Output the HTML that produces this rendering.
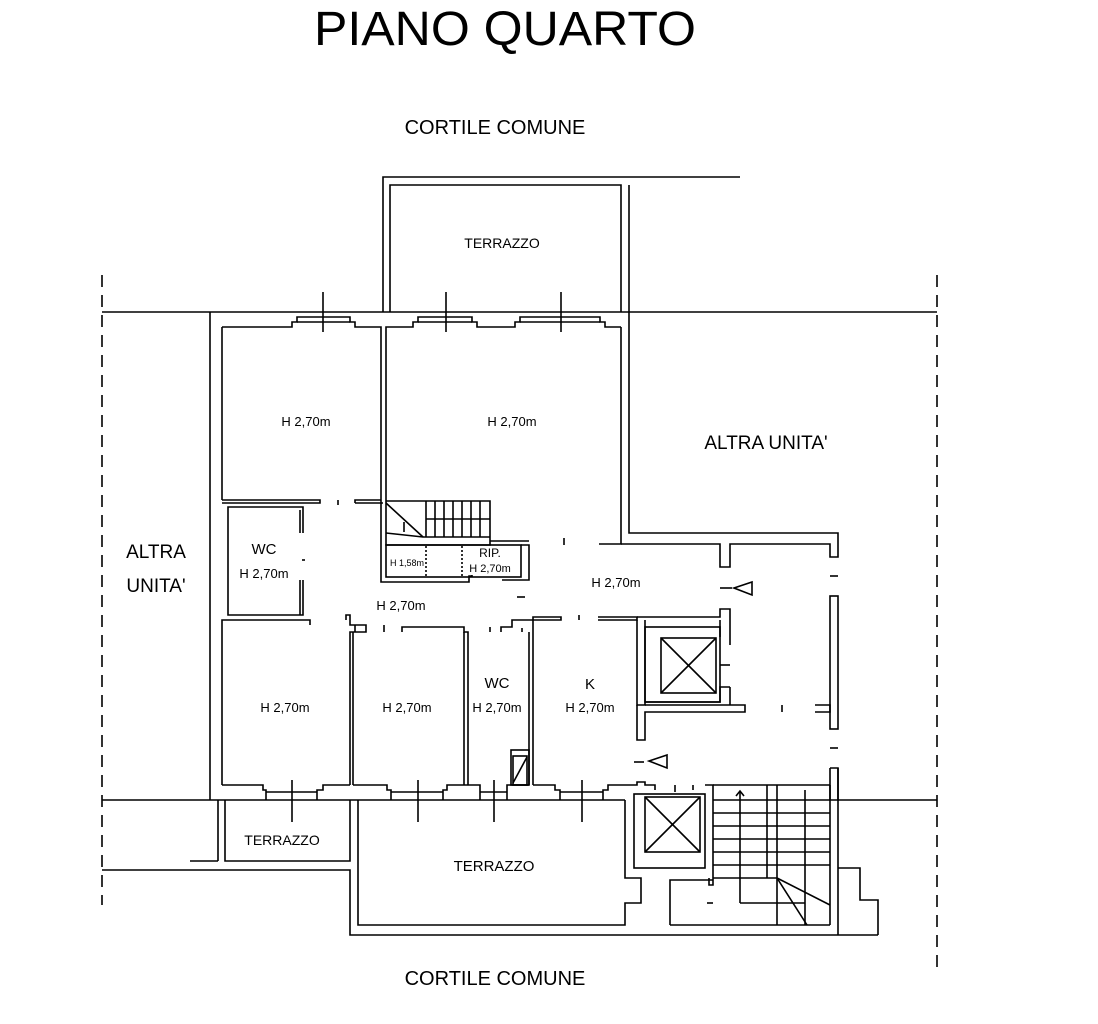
<!DOCTYPE html>
<html><head><meta charset="utf-8"><style>
html,body{margin:0;padding:0;background:#fff;}
svg{display:block;}
text{font-family:"Liberation Sans",sans-serif;fill:#000;}
</style></head><body>
<svg width="1098" height="1024" viewBox="0 0 1098 1024" xmlns="http://www.w3.org/2000/svg">
<g fill="none" stroke="#000" stroke-width="1.6">
<line x1="102" y1="275" x2="102" y2="905" stroke-dasharray="12,8"/>
<line x1="937" y1="275" x2="937" y2="972" stroke-dasharray="12,8"/>
<line x1="102" y1="312" x2="937" y2="312"/>
<line x1="102" y1="800" x2="350" y2="800"/>
<line x1="838" y1="800" x2="937" y2="800"/>
<!-- top terrace -->
<polyline points="383,312 383,177 740,177"/>
<polyline points="390,312 390,185 621,185 621,312"/>
<polyline points="629,185 629,312"/>
<!-- altra unita box -->
<polyline points="621,327 621,544 599,544"/>
<polyline points="621,544 720,544 720,567 730,567 730,544 830,544 830,557 838,557 838,533 629,533 629,312"/>
<!-- outer left wall -->
<line x1="210" y1="312" x2="210" y2="800"/>
<line x1="222" y1="327" x2="222" y2="500"/>
<polyline points="222,327 292,327 292,322 297,322 297,317 350,317 350,322 355,322 355,327 381,327 381,500"/>
<polyline points="386,500 386,327 413,327 413,322 418,322 418,317 472,317 472,322 477,322 477,327 515,327 515,322 520,322 520,317 600,317 600,322 605,322 605,327 621,327"/>
<line x1="297" y1="322" x2="350" y2="322"/>
<line x1="418" y1="322" x2="472" y2="322"/>
<line x1="520" y1="322" x2="600" y2="322"/>
<line x1="323" y1="292" x2="323" y2="332"/>
<line x1="446" y1="292" x2="446" y2="332"/>
<line x1="561" y1="292" x2="561" y2="332"/>
<polyline points="222,500 320,500 320,503 222,503"/>
<polyline points="355,503 355,500 381,500"/>
<line x1="355" y1="503" x2="383" y2="503"/>
<line x1="338" y1="500" x2="338" y2="505"/>
<!-- WC left -->
<polyline points="303,533 303,507 228,507 228,615 300,615 303,615 303,580"/>
<polyline points="300,533 300,510"/>
<line x1="300" y1="580" x2="300" y2="615"/>
<line x1="302" y1="560" x2="305" y2="560"/>
<!-- stairs -->
<polyline points="386,500 386,545 490,545 490,501 386,501"/>
<line x1="426" y1="501" x2="426" y2="537"/>
<line x1="435" y1="501" x2="435" y2="537"/>
<line x1="444" y1="501" x2="444" y2="537"/>
<line x1="453" y1="501" x2="453" y2="537"/>
<line x1="462" y1="501" x2="462" y2="537"/>
<line x1="471" y1="501" x2="471" y2="537"/>
<line x1="480" y1="501" x2="480" y2="537"/>
<line x1="426" y1="519" x2="490" y2="519"/>
<line x1="386" y1="503" x2="423" y2="537"/>
<polyline points="386,533 423,537 490,537"/>
<line x1="404" y1="522" x2="404" y2="532"/>
<line x1="490" y1="541" x2="529" y2="541"/>
<!-- rip -->
<polyline points="381,500 381,582 469,582 469,576 472,576 472,575"/>
<rect x="386" y="545" width="135" height="32"/>
<polyline points="521,545 529,545 529,580 502,580"/>
<line x1="426" y1="546" x2="426" y2="576" stroke-dasharray="2,2"/>
<line x1="462" y1="546" x2="462" y2="576" stroke-dasharray="2,2"/>
<line x1="564" y1="538" x2="564" y2="545"/>
<!-- lower rooms top wall -->
<polyline points="222,785 222,620 310,620 310,625"/>
<polyline points="346,620 346,615 350,615 350,625 366,625 366,632 350,632 350,785"/>
<polyline points="402,632 402,627 464,627 464,632 468,632 468,785"/>
<polyline points="353,785 353,632"/>
<polyline points="501,632 501,627 512,627 512,620 533,620 533,785"/>
<polyline points="529,632 529,785"/>
<polyline points="464,632 464,785"/>
<polyline points="522,632 522,628"/>
<line x1="355" y1="625" x2="355" y2="632"/>
<line x1="384" y1="625" x2="384" y2="632"/>
<line x1="490" y1="627" x2="490" y2="632"/>
<line x1="517" y1="597" x2="525" y2="597"/>
<polyline points="533,620 533,617 561,617 561,620 533,620"/>
<polyline points="598,617 637,617 637,620 598,620"/>
<line x1="579" y1="615" x2="579" y2="620"/>
<!-- elevator 1 -->
<polyline points="637,620 637,705 645,705 645,620"/>
<polyline points="637,617 720,617 720,609 730,609 730,645"/>
<polyline points="720,620 720,637"/>
<rect x="645" y="627" width="75" height="75"/>
<rect x="661" y="638" width="55" height="55"/>
<line x1="661" y1="638" x2="716" y2="693"/><line x1="716" y1="638" x2="661" y2="693"/>
<line x1="720" y1="665" x2="730" y2="665"/>
<polyline points="730,687 720,687 720,702 645,702"/>
<polyline points="645,705 745,705 745,712 645,712 645,740 637,740 637,705"/>
<polyline points="730,687 730,705"/>
<line x1="782" y1="705" x2="782" y2="712"/>
<polyline points="815,705 830,705 830,712 815,712"/>
<!-- right wall -->
<rect x="830" y="596" width="8" height="133"/>
<line x1="830" y1="576" x2="838" y2="576"/>
<line x1="830" y1="748" x2="838" y2="748"/>
<polyline points="830,768 830,800 838,800 838,768 830,768"/>
<line x1="838" y1="768" x2="838" y2="935"/>
<!-- arrows -->
<line x1="720" y1="588" x2="732" y2="588"/>
<polygon points="734,588 752,582 752,595"/>
<line x1="634" y1="762" x2="644" y2="762"/>
<polygon points="649,761 667,755 667,768"/>
<!-- lower room bottoms & windows -->
<polyline points="222,785 263,785 263,790 266,790 266,800"/>
<polyline points="317,800 317,790 323,790 323,785 350,785"/>
<line x1="266" y1="792" x2="317" y2="792"/>
<line x1="292" y1="780" x2="292" y2="822"/>
<polyline points="353,785 387,785 387,790 391,790 391,800"/>
<polyline points="443,800 443,790 447,790 447,785 468,785"/>
<line x1="391" y1="792" x2="443" y2="792"/>
<line x1="418" y1="780" x2="418" y2="822"/>
<polyline points="468,785 480,785 480,800"/>
<polyline points="507,800 507,785 529,785"/>
<line x1="480" y1="792" x2="507" y2="792"/>
<line x1="494" y1="780" x2="494" y2="822"/>
<rect x="511" y="750" width="18" height="35"/>
<rect x="513" y="756" width="14" height="29"/>
<line x1="513" y1="783" x2="527" y2="757"/>
<polyline points="533,785 555,785 555,790 560,790 560,800"/>
<polyline points="603,800 603,790 608,790 608,785 637,785 637,782 645,782 645,785 655,785 655,790"/>
<line x1="560" y1="792" x2="603" y2="792"/>
<line x1="582" y1="780" x2="582" y2="822"/>
<line x1="350" y1="800" x2="625" y2="800"/>
<line x1="675" y1="785" x2="675" y2="792"/>
<!-- small left terrace -->
<polyline points="218,800 218,861"/>
<polyline points="225,800 225,861 350,861 350,800"/>
<polyline points="190,861 218,861"/>
<polyline points="102,870 350,870 350,935 878,935"/>
<polyline points="358,800 358,925 625,925 625,903 641,903 641,878 625,878 625,800"/>
<!-- elevator 2 -->
<rect x="634" y="794" width="71" height="74"/>
<rect x="645" y="797" width="55" height="55"/>
<line x1="645" y1="797" x2="700" y2="852"/><line x1="700" y1="797" x2="645" y2="852"/>
<polyline points="705,785 713,785 713,885 709,885 709,878"/>
<polyline points="693,785 693,790"/>
<!-- stairs lower -->
<polyline points="713,785 830,785"/>
<line x1="767" y1="785" x2="767" y2="878"/>
<line x1="777" y1="785" x2="777" y2="925"/>
<line x1="805" y1="790" x2="805" y2="925"/>
<line x1="713" y1="800" x2="830" y2="800"/>
<line x1="713" y1="813" x2="830" y2="813"/>
<line x1="713" y1="826" x2="830" y2="826"/>
<line x1="713" y1="839" x2="830" y2="839"/>
<line x1="713" y1="852" x2="830" y2="852"/>
<line x1="713" y1="865" x2="830" y2="865"/>
<polyline points="713,878 777,878"/>
<line x1="740" y1="792" x2="740" y2="903"/>
<polyline points="736,796 740,791 744,796"/>
<line x1="740" y1="903" x2="805" y2="903"/>
<line x1="777" y1="878" x2="830" y2="905"/>
<line x1="777" y1="878" x2="807" y2="925"/>
<polyline points="830,785 830,925"/>
<polyline points="670,925 670,880 713,880"/>
<line x1="670" y1="925" x2="830" y2="925"/>
<polyline points="838,868 860,868 860,900 878,900 878,935"/>
<line x1="707" y1="903" x2="713" y2="903"/>
</g>
<g font-size="14" text-anchor="middle">
<text x="505" y="45" font-size="48" textLength="382" lengthAdjust="spacingAndGlyphs">PIANO QUARTO</text>
<text x="495" y="134" font-size="20">CORTILE COMUNE</text>
<text x="495" y="985" font-size="20">CORTILE COMUNE</text>
<text x="502" y="248">TERRAZZO</text>
<text x="766" y="449" font-size="19">ALTRA UNITA'</text>
<text x="156" y="558" font-size="19">ALTRA</text>
<text x="156" y="592" font-size="19">UNITA'</text>
<text x="306" y="426" font-size="13">H 2,70m</text>
<text x="512" y="426" font-size="13">H 2,70m</text>
<text x="264" y="554" font-size="15">WC</text>
<text x="264" y="578" font-size="13">H 2,70m</text>
<text x="401" y="610" font-size="13">H 2,70m</text>
<text x="407" y="566" font-size="9">H 1,58m</text>
<text x="490" y="557" font-size="12">RIP.</text>
<text x="490" y="572" font-size="11">H 2,70m</text>
<text x="616" y="587" font-size="13">H 2,70m</text>
<text x="285" y="712" font-size="13">H 2,70m</text>
<text x="407" y="712" font-size="13">H 2,70m</text>
<text x="497" y="688" font-size="15">WC</text>
<text x="497" y="712" font-size="13">H 2,70m</text>
<text x="590" y="689" font-size="15">K</text>
<text x="590" y="712" font-size="13">H 2,70m</text>
<text x="282" y="845">TERRAZZO</text>
<text x="494" y="871" font-size="15">TERRAZZO</text>
</g>
</svg>
</body></html>
